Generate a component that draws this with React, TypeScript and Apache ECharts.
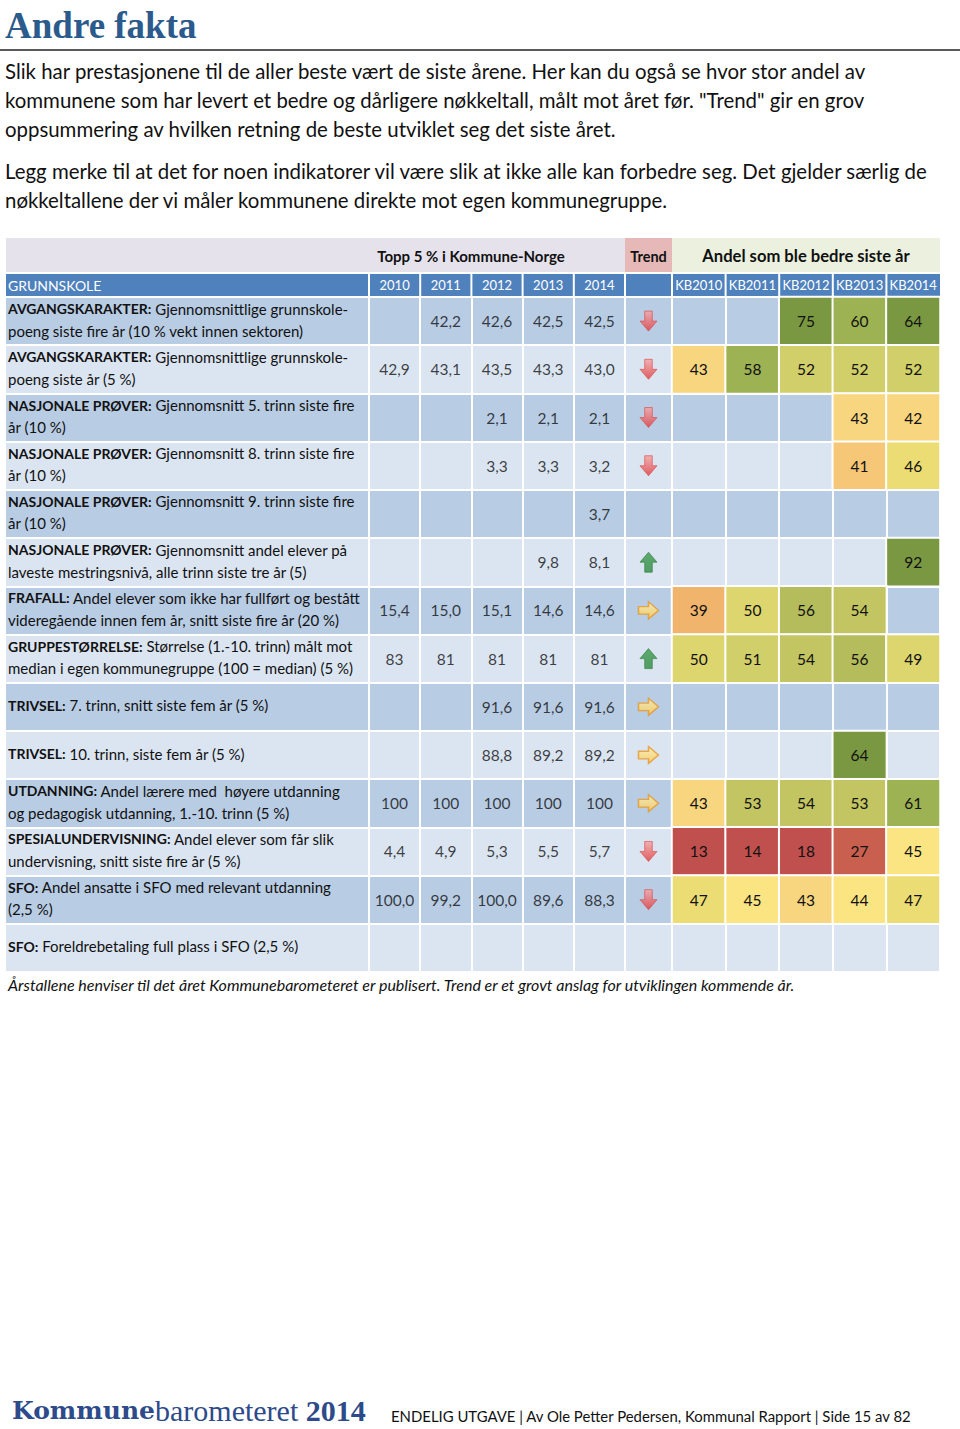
import React, { useEffect, useRef } from "react";
import * as echarts from "echarts";

const years = ["2010", "2011", "2012", "2013", "2014"];
const kbYears = ["KB2010", "KB2011", "KB2012", "KB2013", "KB2014"];

const rowBold = [
  "AVGANGSKARAKTER:",
  "AVGANGSKARAKTER:",
  "NASJONALE PRØVER:",
  "NASJONALE PRØVER:",
  "NASJONALE PRØVER:",
  "NASJONALE PRØVER:",
  "FRAFALL:",
  "GRUPPESTØRRELSE:",
  "TRIVSEL:",
  "TRIVSEL:",
  "UTDANNING:",
  "SPESIALUNDERVISNING:",
  "SFO:",
  "SFO:",
];
const rowRest = [
  " Gjennomsnittlige grunnskole-\npoeng siste fire år (10 % vekt innen sektoren)",
  " Gjennomsnittlige grunnskole-\npoeng siste år (5 %)",
  " Gjennomsnitt 5. trinn siste fire\når (10 %)",
  " Gjennomsnitt 8. trinn siste fire\når (10 %)",
  " Gjennomsnitt 9. trinn siste fire\når (10 %)",
  " Gjennomsnitt andel elever på\nlaveste mestringsnivå, alle trinn siste tre år (5)",
  " Andel elever som ikke har fullført og bestått\nvideregående innen fem år, snitt siste fire år (20 %)",
  " Størrelse (1.-10. trinn) målt mot\nmedian i egen kommunegruppe (100 = median) (5 %)",
  " 7. trinn, snitt siste fem år (5 %)",
  " 10. trinn, siste fem år (5 %)",
  " Andel lærere med  høyere utdanning\nog pedagogisk utdanning, 1.-10. trinn (5 %)",
  " Andel elever som får slik\nundervisning, snitt siste fire år (5 %)",
  " Andel ansatte i SFO med relevant utdanning\n(2,5 %)",
  " Foreldrebetaling full plass i SFO (2,5 %)",
];

const yearValues: (number | null)[][] = [
  [null, 42.2, 42.6, 42.5, 42.5],
  [42.9, 43.1, 43.5, 43.3, 43.0],
  [null, null, 2.1, 2.1, 2.1],
  [null, null, 3.3, 3.3, 3.2],
  [null, null, null, null, 3.7],
  [null, null, null, 9.8, 8.1],
  [15.4, 15.0, 15.1, 14.6, 14.6],
  [83, 81, 81, 81, 81],
  [null, null, 91.6, 91.6, 91.6],
  [null, null, 88.8, 89.2, 89.2],
  [100, 100, 100, 100, 100],
  [4.4, 4.9, 5.3, 5.5, 5.7],
  [100.0, 99.2, 100.0, 89.6, 88.3],
  [null, null, null, null, null],
];
const decimals = [1, 1, 1, 1, 1, 1, 1, 0, 1, 1, 0, 1, 1, 1];

const trends: (string | null)[] = [
  "down", "down", "down", "down", null, "up", "right", "up",
  "right", "right", "right", "down", "down", null,
];

const kbValues: (number | null)[][] = [
  [null, null, 75, 60, 64],
  [43, 58, 52, 52, 52],
  [null, null, null, 43, 42],
  [null, null, null, 41, 46],
  [null, null, null, null, null],
  [null, null, null, null, 92],
  [39, 50, 56, 54, null],
  [50, 51, 54, 56, 49],
  [null, null, null, null, null],
  [null, null, null, 64, null],
  [43, 53, 54, 53, 61],
  [13, 14, 18, 27, 45],
  [47, 45, 43, 44, 47],
  [null, null, null, null, null],
];

const para1 = [
  "Slik har prestasjonene til de aller beste vært de siste årene. Her kan du også se hvor stor andel av",
  "kommunene som har levert et bedre og dårligere nøkkeltall, målt mot året før. \"Trend\" gir en grov",
  "oppsummering av hvilken retning de beste utviklet seg det siste året.",
];
const para2 = [
  "Legg merke til at det for noen indikatorer vil være slik at ikke alle kan forbedre seg. Det gjelder særlig de",
  "nøkkeltallene der vi måler kommunene direkte mot egen kommunegruppe.",
];

const FONT = "Lato";

const T_LEFT = 6, T_TOP = 297, T_H = 675;
const Y_LEFT = 369, Y_W = 256;
const TR_LEFT = 625, TR_W = 47;
const K_LEFT = 672, K_W = 268;

const ARROWS: Record<string, any> = {
  down: {
    symbol: "path://M5,0 L13,0 L13,10 L18,10 L9,20 L0,10 L5,10 Z",
    symbolSize: [17, 20],
    itemStyle: {
      color: { type: "linear", x: 0, y: 0, x2: 0, y2: 1, colorStops: [{ offset: 0, color: "#f7a3a3" }, { offset: 1, color: "#e03a3d" }] },
      borderColor: "#d9484a",
      borderWidth: 0.8,
    },
  },
  up: {
    symbol: "path://M9,0 L18,10 L13,10 L13,20 L5,20 L5,10 L0,10 Z",
    symbolSize: [17, 20],
    itemStyle: {
      color: { type: "linear", x: 0, y: 0, x2: 0, y2: 1, colorStops: [{ offset: 0, color: "#3d9a4c" }, { offset: 1, color: "#2f8a40" }] },
      borderColor: "#2c7d3b",
      borderWidth: 0.8,
    },
  },
  right: {
    symbol: "path://M0,5 L10,5 L10,0 L20,9 L10,18 L10,13 L0,13 Z",
    symbolSize: [20, 17],
    itemStyle: {
      color: { type: "linear", x: 0, y: 0, x2: 0, y2: 1, colorStops: [{ offset: 0, color: "#fff1b0" }, { offset: 1, color: "#fcc84a" }] },
      borderColor: "#e5962a",
      borderWidth: 1.4,
    },
  },
};

function fmt(v: number, d: number) {
  return v.toFixed(d).replace(".", ",");
}

export default function App() {
  const ref = useRef<HTMLDivElement>(null);
  useEffect(() => {
    document.body.style.margin = "0";
    const chart = echarts.init(ref.current!, null, { renderer: "svg" });

    const rowCats = rowBold.map((_, i) => String(i));

    const yearData: any[] = [];
    yearValues.forEach((row, r) =>
      row.forEach((v, c) => {
        if (v !== null) yearData.push([c, r, v]);
      })
    );
    const kbData: any[] = [];
    kbValues.forEach((row, r) =>
      row.forEach((v, c) => {
        if (v !== null) kbData.push([c, r, v]);
      })
    );
    const trendData: any[] = [];
    trends.forEach((t, r) => {
      if (t) trendData.push({ value: [0, r], ...ARROWS[t] });
    });

    const yColW = Y_W / years.length;
    const kColW = K_W / kbYears.length;
    const sepXs: number[] = [];
    for (let i = 0; i <= years.length; i++) sepXs.push(Y_LEFT + i * yColW);
    sepXs.push(TR_LEFT + TR_W);
    for (let i = 1; i < kbYears.length; i++) sepXs.push(K_LEFT + i * kColW);

    const graphic: any[] = [
      {
        type: "text", x: 5, y: 25,
        style: { text: "Andre fakta", font: 'bold 37px "Liberation Serif"', fill: "#2b5a8c", verticalAlign: "middle" },
      },
      { type: "line", shape: { x1: 0, y1: 50, x2: 960, y2: 50 }, style: { stroke: "#222", lineWidth: 1.5 } },
      ...para1.map((t, i) => ({
        type: "text", x: 5, y: 71 + i * 29,
        style: { text: t, font: `20.4px ${FONT}`, fill: "#111", verticalAlign: "middle" },
      })),
      ...para2.map((t, i) => ({
        type: "text", x: 5, y: 171 + i * 29,
        style: { text: t, font: `20.4px ${FONT}`, fill: "#111", verticalAlign: "middle" },
      })),
      // header row 1
      { type: "rect", shape: { x: T_LEFT, y: 238, width: TR_LEFT - T_LEFT, height: 34 }, style: { fill: "#e6e2ec" } },
      { type: "rect", shape: { x: TR_LEFT, y: 238, width: TR_W, height: 34 }, style: { fill: "#e6b9b8" } },
      { type: "rect", shape: { x: K_LEFT, y: 238, width: K_W, height: 34 }, style: { fill: "#ebf1de" } },
      {
        type: "text", x: 471, y: 256,
        style: { text: "Topp 5 % i Kommune-Norge", font: `bold 15px ${FONT}`, fill: "#111", align: "center", verticalAlign: "middle" },
      },
      {
        type: "text", x: TR_LEFT + TR_W / 2, y: 256,
        style: { text: "Trend", font: `bold 14.5px ${FONT}`, fill: "#111", align: "center", verticalAlign: "middle" },
      },
      {
        type: "text", x: 806, y: 256,
        style: { text: "Andel som ble bedre siste år", font: `bold 16.6px ${FONT}`, fill: "#111", align: "center", verticalAlign: "middle" },
      },
      // header row 2
      { type: "rect", shape: { x: T_LEFT, y: 274, width: K_LEFT + K_W - T_LEFT, height: 22 }, style: { fill: "#4f81bd" } },
      ...sepXs.map((x) => ({
        type: "line", shape: { x1: x, y1: 274, x2: x, y2: 296 }, style: { stroke: "#fff", lineWidth: 2 },
      })),
      {
        type: "text", x: 8, y: 285,
        style: { text: "GRUNNSKOLE", font: `14px ${FONT}`, fill: "#fff", verticalAlign: "middle" },
      },
      {
        type: "line", shape: { x1: K_LEFT + 2 * kColW, y1: 296.5, x2: K_LEFT + K_W, y2: 296.5 },
        style: { stroke: "#1a1a1a", lineWidth: 1.2 },
      },
      // footnote
      {
        type: "text", x: 8, y: 984,
        style: {
          text: "Årstallene henviser til det året Kommunebarometeret er publisert. Trend er et grovt anslag for utviklingen kommende år.",
          font: `italic 16px ${FONT}`, fill: "#111", verticalAlign: "middle",
        },
      },
      { type: "rect", shape: { x: 935, y: 966, width: 4, height: 4 }, style: { fill: "#4f81bd" } },
      // footer
      {
        type: "text", x: 12, y: 1410,
        style: {
          text: "{a|Kommune}{b|barometeret}{c| 2014}",
          verticalAlign: "middle",
          rich: {
            a: { fontFamily: "DejaVu Serif", fontWeight: "bold", fontSize: 25, fill: "#2d4a8a" },
            b: { fontFamily: "Liberation Serif", fontWeight: "normal", fontSize: 30, fill: "#2d4a8a" },
            c: { fontFamily: "Liberation Serif", fontWeight: "bold", fontSize: 30, fill: "#2d4a8a" },
          },
        },
      },
      {
        type: "text", x: 391, y: 1416,
        style: {
          text: "ENDELIG UTGAVE | Av Ole Petter Pedersen, Kommunal Rapport | Side 15 av 82",
          font: `14.9px ${FONT}`, fill: "#111", verticalAlign: "middle",
        },
      },
    ];

    const hiddenRowAxis = (gi: number) => ({
      type: "category",
      gridIndex: gi,
      data: rowCats,
      inverse: true,
      axisLabel: { show: false },
      axisTick: { show: false },
      axisLine: { show: true, lineStyle: { color: "#fff", width: 2 } },
      splitLine: { show: false },
      z: 2,
    });

    const topCatAxis = (gi: number, data: string[]) => ({
      type: "category",
      gridIndex: gi,
      data,
      position: "top",
      axisLabel: { color: "#fff", fontSize: 13, fontFamily: FONT, margin: 6, interval: 0 },
      axisTick: { show: false },
      axisLine: { show: false },
      splitLine: { show: true, interval: 0, lineStyle: { color: "#fff", width: 2 } },
      z: 2,
    });

    chart.setOption({
      animation: false,
      backgroundColor: "#fff",
      textStyle: { fontFamily: FONT },
      grid: [
        { left: T_LEFT, top: T_TOP, width: K_LEFT + K_W - T_LEFT, height: T_H },
        { left: Y_LEFT, top: T_TOP, width: Y_W, height: T_H },
        { left: TR_LEFT, top: T_TOP, width: TR_W, height: T_H },
        { left: K_LEFT, top: T_TOP, width: K_W, height: T_H },
      ],
      xAxis: [
        { type: "value", gridIndex: 0, show: false, min: 0, max: 1 },
        topCatAxis(1, years),
        { type: "category", gridIndex: 2, data: ["T"], show: false },
        topCatAxis(3, kbYears),
      ],
      yAxis: [
        {
          type: "category",
          gridIndex: 0,
          data: rowCats,
          inverse: true,
          axisLine: { show: false },
          axisTick: { show: false },
          splitArea: { show: true, interval: 0, areaStyle: { color: ["#b8cce4", "#dbe5f1"] } },
          splitLine: { show: true, interval: 0, lineStyle: { color: "#fff", width: 2 } },
          axisLabel: {
            inside: true,
            interval: 0,
            margin: 2,
            align: "left",
            fontFamily: FONT,
            fontSize: 15,
            color: "#111",
            lineHeight: 22,
            padding: [0, 0, 3, 0],
            formatter: (_v: string, i: number) => `{b|${rowBold[i]}}${rowRest[i]}`,
            rich: {
              b: { fontFamily: FONT, fontSize: 14, fontWeight: "bold", color: "#111", lineHeight: 22 },
            },
          },
          z: 0,
        },
        hiddenRowAxis(1),
        hiddenRowAxis(2),
        hiddenRowAxis(3),
      ],
      visualMap: {
        type: "piecewise",
        show: false,
        seriesIndex: 2,
        dimension: 2,
        pieces: [
          { gte: 0, lt: 20, color: "#c0504d" },
          { gte: 20, lt: 35, color: "#c9604f" },
          { gte: 35, lt: 40, color: "#f0b46c" },
          { gte: 40, lt: 42, color: "#f5c777" },
          { gte: 42, lt: 44, color: "#f8d57f" },
          { gte: 44, lt: 46, color: "#fbe482" },
          { gte: 46, lt: 48, color: "#ebdd74" },
          { gte: 48, lt: 51, color: "#ddd66f" },
          { gte: 51, lt: 53, color: "#d1cf69" },
          { gte: 53, lt: 55, color: "#c3c562" },
          { gte: 55, lt: 57, color: "#b4bc5c" },
          { gte: 57, lt: 62, color: "#9db253" },
          { gte: 62, lte: 100, color: "#7a9841" },
        ],
      },
      series: [
        {
          type: "scatter",
          xAxisIndex: 1,
          yAxisIndex: 1,
          data: yearData,
          symbolSize: 1,
          itemStyle: { color: "transparent" },
          label: {
            show: true,
            position: "inside",
            fontFamily: FONT,
            fontSize: 15.5,
            color: "#111",
            formatter: (p: any) => fmt(p.value[2], decimals[p.value[1]]),
          },
          z: 5,
        },
        {
          type: "scatter",
          xAxisIndex: 2,
          yAxisIndex: 2,
          data: trendData,
          z: 5,
        },
        {
          type: "heatmap",
          xAxisIndex: 3,
          yAxisIndex: 3,
          data: kbData,
          itemStyle: { borderColor: "#fff", borderWidth: 2 },
          label: {
            show: true,
            fontFamily: FONT,
            fontSize: 15.5,
            color: "#111",
            formatter: (p: any) => String(p.value[2]),
          },
          z: 5,
        },
      ],
      graphic,
    });
    return () => chart.dispose();
  }, []);
  return <div ref={ref} style={{ width: 960, height: 1429 }} />;
}
